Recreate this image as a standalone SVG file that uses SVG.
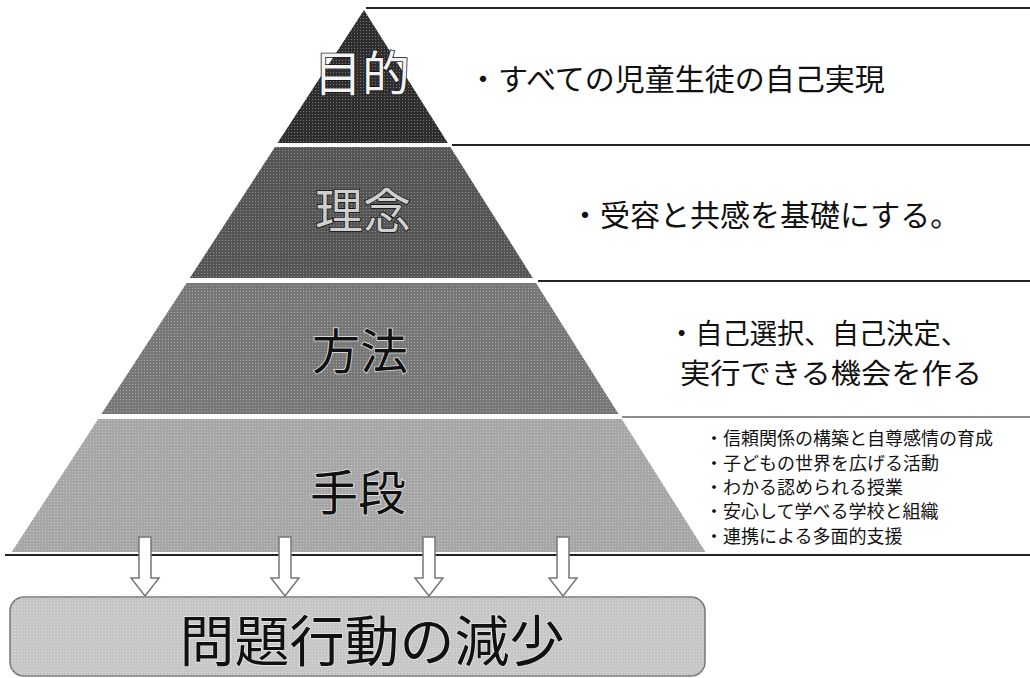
<svg xmlns="http://www.w3.org/2000/svg" width="1030" height="678" viewBox="0 0 1030 678">
<defs>
<pattern id="dots" width="3" height="3" patternUnits="userSpaceOnUse">
<rect width="3" height="3" fill="none"/>
<rect x="0" y="0" width="1" height="1" fill="#ffffff" opacity="0.35"/>
</pattern>
</defs>
<style>
.jp{font-family:"Noto Sans CJK JP","Noto Sans CJK SC",sans-serif;}
.tier-label{font-size:48px;text-anchor:middle;}
.light-label{fill:#f2f2f2;stroke:#111;stroke-width:1.6px;paint-order:stroke;}
.dark-label{fill:#111;stroke:#e8e8e8;stroke-width:1.5px;paint-order:stroke;}
.rt{font-size:30px;fill:#111;}
.rt2{font-size:28px;fill:#111;}
.small{font-size:18px;fill:#111;}
.rule{stroke:#222;stroke-width:2;}
.rule-light{stroke:#666;stroke-width:1.5;}
.arrow{fill:#ffffff;stroke:#777;stroke-width:1.5;}
</style>
<rect width="1030" height="678" fill="#ffffff"/>

<g id="rules">
<line class="rule" x1="366" y1="8" x2="1030" y2="8"/>
<line class="rule" x1="452" y1="145" x2="1030" y2="145"/>
<line class="rule" x1="538" y1="281" x2="1030" y2="281"/>
<line class="rule-light" x1="622" y1="417" x2="1030" y2="417"/>
<line class="rule" x1="5" y1="555" x2="1030" y2="555"/>
</g>

<g id="tier-purpose">
<polygon points="364,10 447.8,143 277.5,143" fill="#2e2e2e"/>
<polygon points="364,10 447.8,143 277.5,143" fill="url(#dots)"/>
<text class="jp tier-label light-label" x="362" y="91">目的</text>
<text class="jp rt" x="468" y="90">・すべての児童生徒の自己実現</text>
</g>

<g id="tier-philosophy">
<polygon points="275,147 450.3,147 532.8,278 189.8,278" fill="#555555"/>
<polygon points="275,147 450.3,147 532.8,278 189.8,278" fill="url(#dots)"/>
<text class="jp tier-label light-label" x="363" y="228" style="fill:#cfcfcf">理念</text>
<text class="jp rt" x="570" y="226">・受容と共感を基礎にする。</text>
</g>

<g id="tier-method">
<polygon points="186.6,283 536,283 618.5,414 101.4,414" fill="#777777"/>
<polygon points="186.6,283 536,283 618.5,414 101.4,414" fill="url(#dots)"/>
<text class="jp tier-label dark-label" x="360" y="369">方法</text>
<text class="jp rt2" x="668" y="344" textLength="300" lengthAdjust="spacingAndGlyphs">・自己選択、自己決定、</text>
<text class="jp rt2" x="680" y="384" textLength="302" lengthAdjust="spacingAndGlyphs">実行できる機会を作る</text>
</g>

<g id="tier-means">
<polygon points="98.2,419 621.7,419 705.5,552 11.7,552" fill="#a6a6a6"/>
<polygon points="98.2,419 621.7,419 705.5,552 11.7,552" fill="url(#dots)"/>
<text class="jp tier-label dark-label" x="358" y="510">手段</text>
<text class="jp small" x="705" y="445">・信頼関係の構築と自尊感情の育成</text>
<text class="jp small" x="705" y="470">・子どもの世界を広げる活動</text>
<text class="jp small" x="705" y="494">・わかる認められる授業</text>
<text class="jp small" x="705" y="518">・安心して学べる学校と組織</text>
<text class="jp small" x="705" y="543">・連携による多面的支援</text>
</g>

<g id="connectors">
<path class="arrow" d="M139,537 L151,537 L151,578 L159,578 L145,596 L131,578 L139,578 Z"/>
<path class="arrow" d="M279,537 L291,537 L291,578 L299,578 L285,596 L271,578 L279,578 Z"/>
<path class="arrow" d="M423,537 L435,537 L435,578 L443,578 L429,596 L415,578 L423,578 Z"/>
<path class="arrow" d="M557,537 L569,537 L569,578 L577,578 L563,596 L549,578 L557,578 Z"/>
</g>

<g id="result">
<rect x="10" y="597" width="695" height="79" rx="14" ry="14" fill="#c6c6c6" stroke="#777" stroke-width="1.5"/>
<rect x="10" y="597" width="695" height="79" rx="14" ry="14" fill="url(#dots)"/>
<text class="jp dark-label" x="372" y="661" text-anchor="middle" style="font-size:55px">問題行動の減少</text>
</g>
</svg>
